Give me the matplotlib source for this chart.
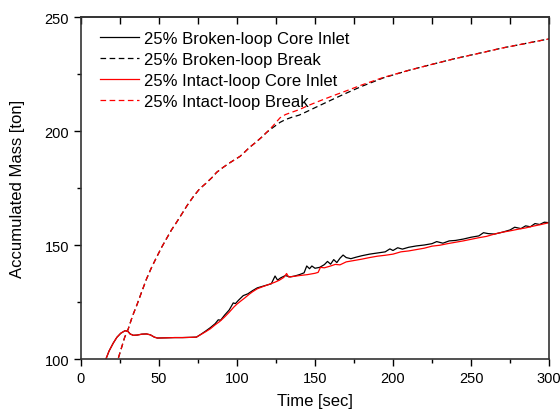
import matplotlib.pyplot as plt
from matplotlib.ticker import MultipleLocator

plt.rcParams['font.family'] = ['Liberation Sans', 'DejaVu Sans']

# 25% Intact-loop Core Inlet (red solid)
t_ic = [16, 18, 20.7, 23, 25.5, 28.2, 30, 31.5, 33.5, 36, 39, 42, 44.5, 47, 49,
        55, 60, 65, 70, 74, 77, 80, 83, 86, 89, 92, 95, 98, 100, 102, 105, 108,
        110, 113, 116, 120, 124, 127, 130, 131.8, 133, 136, 140, 145, 150, 152,
        153.5, 156, 160, 163, 166, 170, 175, 180, 185, 190, 195, 200, 205, 210,
        215, 220, 225, 230, 235, 240, 245, 250, 255, 260, 265, 270, 275, 280,
        285, 290, 295, 300]
m_ic = [100.0, 103.5, 107.0, 109.5, 111.3, 112.4, 112.2, 111.0, 110.4, 110.5,
        110.9, 111.0, 110.6, 109.6, 109.2, 109.3, 109.4, 109.4, 109.5, 109.6,
        110.8, 112.0, 113.3, 115.0, 116.5, 118.4, 120.5, 122.8, 124.1, 125.2,
        126.8, 128.5, 129.5, 130.8, 131.6, 132.6, 133.6, 134.5, 135.8, 137.5,
        136.0, 136.2, 136.6, 137.0, 137.6, 138.0, 140.2, 140.0, 140.8, 141.5,
        141.3, 142.6, 143.2, 143.8, 144.5, 145.1, 145.5, 146.0, 147.0, 147.4,
        148.0, 148.6, 149.5, 149.9, 150.6, 151.2, 151.8, 152.5, 153.2, 153.8,
        154.8, 155.6, 156.2, 156.9, 157.5, 158.3, 159.0, 159.8]

# 25% Broken-loop Core Inlet (black solid)
t_bc = [16, 18, 20.7, 23, 25.5, 28.2, 30, 31.5, 33.5, 36, 39, 42, 44.5, 47, 49,
        55, 60, 65, 70, 74, 77, 80, 83, 86, 88, 89.5, 92, 95, 97.6, 99, 101, 104,
        107, 110, 113, 116, 119, 122, 124.4, 126, 128, 131, 134, 137, 140, 143,
        144.7, 146.5, 148, 150, 153, 156, 158, 160, 162, 164, 166, 168, 170, 173,
        176, 180, 185, 190, 195, 198, 200, 203, 206, 210, 215, 220, 225, 228,
        232, 236, 240, 245, 250, 255, 258, 261, 265, 270, 275, 278, 282, 285,
        288, 291, 294, 297, 300]
m_bc = [100.0, 103.5, 107.0, 109.5, 111.3, 112.4, 112.2, 111.0, 110.4, 110.5,
        110.9, 111.0, 110.6, 109.6, 109.2, 109.3, 109.4, 109.4, 109.5, 109.6,
        110.9, 112.3, 113.8, 115.5, 117.2, 117.0, 119.2, 121.5, 124.6, 124.3,
        125.8, 127.8, 128.6, 130.0, 131.2, 131.8, 132.4, 133.0, 136.4, 134.6,
        135.6, 136.6, 136.0, 136.4, 137.0, 137.8, 140.8, 139.6, 140.8, 139.8,
        140.2, 141.4, 142.8, 141.6, 143.6, 142.3, 144.2, 145.6, 144.5, 144.0,
        144.6, 145.3, 146.0, 146.5, 147.0, 148.3, 147.6, 148.8, 148.2, 149.0,
        149.6, 150.0, 150.6, 151.5, 150.8, 151.8, 152.0, 152.6, 153.4, 154.0,
        155.4, 155.0, 154.8, 155.6, 156.6, 157.8, 157.2, 158.4, 158.0, 159.4,
        159.0, 160.0, 159.8]

# 25% Intact-loop Break (red dashed)
t_ib = [24, 26, 28, 30.3, 33, 36, 39, 42, 45, 48, 51.7, 55, 58, 61.3, 65, 68,
        72, 76, 80, 84, 87, 91, 95, 98, 102, 105, 108, 112, 116, 119, 123, 127.6,
        131, 135, 140, 145, 153, 161.7, 170, 180, 193.8, 210, 225.9, 240, 257.9,
        270, 285, 300]
m_ib = [100.5, 105.0, 109.5, 113.2, 118.8, 124.0, 129.6, 135.1, 139.8, 144.0,
        149.0, 153.0, 156.6, 160.0, 164.0, 167.3, 171.2, 174.6, 177.0, 179.6,
        181.9, 184.0, 185.9, 187.2, 188.9, 190.8, 192.8, 195.0, 197.4, 199.4,
        202.2, 205.8, 207.2, 208.2, 209.4, 211.0, 213.2, 215.5, 217.6, 220.2,
        223.5, 226.6, 229.4, 231.8, 234.5, 236.4, 238.4, 240.4]

# 25% Broken-loop Break (black dashed)
t_bb = [24, 26, 28, 30.3, 33, 36, 39, 42, 45, 48, 51.7, 55, 58, 61.3, 65, 68,
        72, 76, 80, 84, 87, 91, 95, 98, 102, 105, 108, 112, 116, 119, 123, 127.6,
        131, 135, 140, 145, 153, 161.7, 170, 180, 193.8, 210, 225.9, 240, 257.9,
        270, 285, 300]
m_bb = [100.5, 105.0, 109.5, 113.2, 118.8, 124.0, 129.6, 135.1, 139.8, 144.0,
        149.0, 153.0, 156.6, 160.0, 164.0, 167.3, 171.2, 174.6, 177.0, 179.6,
        181.9, 184.0, 185.9, 187.2, 188.9, 190.8, 192.8, 195.0, 197.4, 199.4,
        201.5, 203.8, 205.0, 206.0, 207.0, 208.6, 211.2, 214.0, 216.6, 219.6,
        223.3, 226.6, 229.4, 231.8, 234.5, 236.4, 238.4, 240.4]

fig = plt.figure(figsize=(5.6, 4.14), dpi=100)
ax = fig.add_axes([0.1446, 0.1304, 0.8358, 0.8261])

dash = (4.5, 2.8)
ax.plot(t_bc, m_bc, color='black', lw=0.9, label='25% Broken-loop Core Inlet')
ax.plot(t_bb, m_bb, color='black', lw=0.9, dashes=dash, label='25% Broken-loop Break')
ax.plot(t_ic, m_ic, color='red', lw=0.9, label='25% Intact-loop Core Inlet')
ax.plot(t_ib, m_ib, color='red', lw=0.9, dashes=dash, label='25% Intact-loop Break')

ax.set_xlim(0, 300)
ax.set_ylim(100, 250)
ax.xaxis.set_major_locator(MultipleLocator(50))
ax.xaxis.set_minor_locator(MultipleLocator(25))
ax.yaxis.set_major_locator(MultipleLocator(50))
ax.yaxis.set_minor_locator(MultipleLocator(25))
ax.tick_params(which='major', direction='out', length=5, width=1, labelsize=10.5)
ax.tick_params(which='minor', direction='out', length=3, width=1)

top = ax.secondary_xaxis('top')
top.xaxis.set_major_locator(MultipleLocator(25))
top.tick_params(direction='in', length=5, width=1, labeltop=False)
top.spines['top'].set_linewidth(1.2)
top.spines['top'].set_color('#333333')

for s in ax.spines.values():
    s.set_linewidth(1.2)
    s.set_color('#333333')

ax.set_xlabel('Time [sec]', fontsize=12, labelpad=6)
ax.set_ylabel('Accumulated Mass [ton]', fontsize=12, labelpad=14)

ax.legend(loc='upper left', frameon=False, fontsize=12, handlelength=2.3,
          handletextpad=0.3, labelspacing=0.35, borderaxespad=0.2,
          bbox_to_anchor=(0.02, 0.988))

fig.savefig('out.png', dpi=100)
